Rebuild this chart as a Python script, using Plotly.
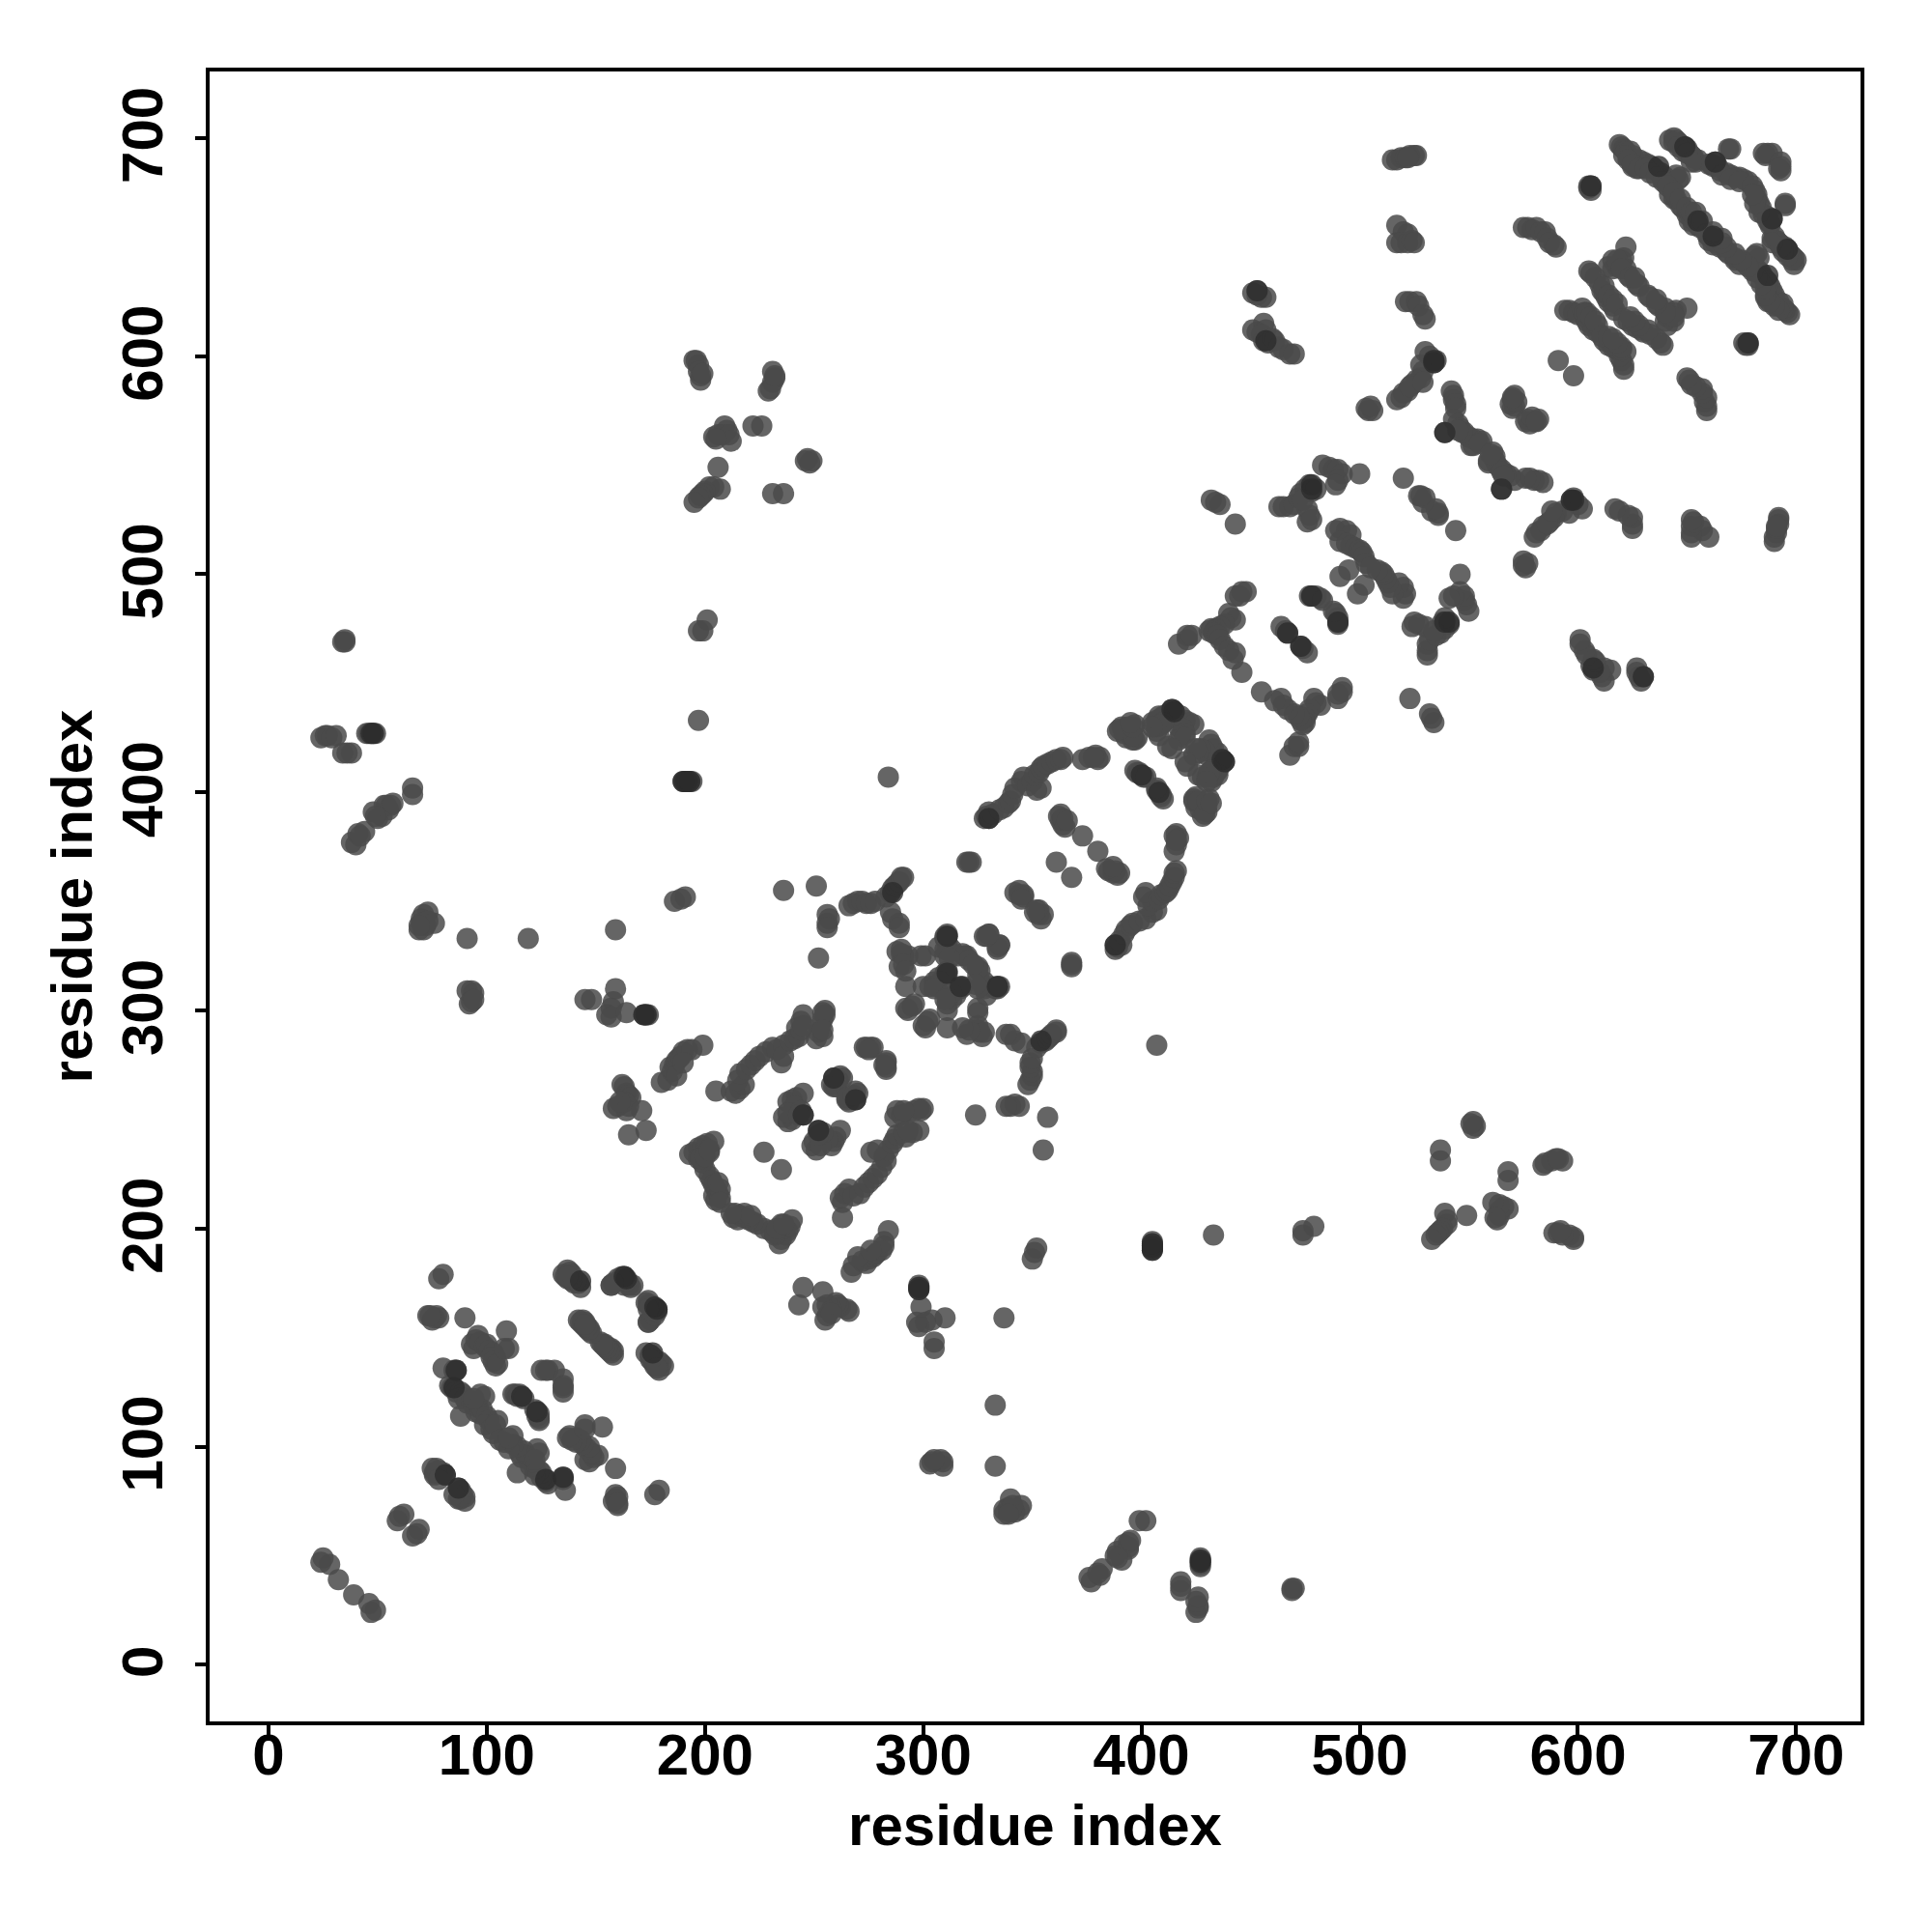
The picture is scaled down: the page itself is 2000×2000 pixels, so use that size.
import plotly.graph_objects as go

# Contacts, stored once as (lower residue, higher residue).
# The map is symmetric, so each contact is also drawn at (higher, lower).
n_terminal = [(25,49),(24,47),(28,46),(32,39),(60,68),(62,69),(59,66),
    (75,90),(76,88),(77,88),(78,89),(80,88),(81,87),(76,87),(77,90),(78,85)]
region_100 = [(78,177),(80,179),(73,160),(76,159),(77,160),(75,158),(78,159),(74,160),(90,159),
    (96,151),(93,147),(95,149),(94,145),(97,148),(99,146),(100,147),(101,144),(103,143),(104,141),(102,141),
    (104,137),(103,139),(105,138),(109,153),(110,145),(108,145),(80,136),(86,135),(85,135),
    (83,128),(84,127),(85,127),(86,125),(88,125),(89,124),(87,122),(90,122),(91,120),(93,121),(94,119),
    (96,118),(95,116),(97,115),(98,117),(99,123),(97,124),(94,122),(100,114),(101,112),(99,110),(102,108),
    (103,106),(105,112),(104,110),(88,114),(112,124),(113,124),(114,123),(116,123),(115,124),(117,122),
    (125,135),(128,135),(131,135),(127,135),(137,181),(135,179),(137,177),(139,176),(141,176),(142,175),
    (140,175),(136,178),(157,174),(160,177),(162,178),(164,176),(165,175),(167,174),(163,174),(173,166),
    (174,165),(176,164),(178,163),(177,162),(174,157),(175,158),(142,158),(143,157),(144,156),(145,155),
    (146,154),(147,153),(152,148),(154,147),(155,146),(157,145),(158,144),(156,145),(173,143),(175,142),
    (176,141),(177,139),(179,139),(180,138),(178,137)]
region_200 = [(162,266),(163,265),(164,262),(165,261),(166,260),(163,258),(160,256),(158,255),(165,256),
    (164,254),(171,254),(165,243),(173,245),(161,258),(180,267),(183,268),(185,272),(184,274),(186,275),
    (187,277),(188,278),(189,279),(190,281),(192,282),(194,282),(199,284),(187,270),(190,276),(205,263),
    (212,263),(214,262),(216,264),(218,266),(215,268),(216,271),(219,273),(221,275),(223,277),(225,279),
    (228,281),(231,283),(233,282),(236,284),(235,276),(236,279),(239,286),(241,287),(243,288),(242,292),
    (244,295),(245,298),(251,287),(252,290),(253,293),(254,296),(255,298),(255,300),(254,299),(244,291),
    (245,293),(254,288),(254,291),(227,235),(193,234),(195,235),(197,237),(199,238),(200,236),(201,239),
    (204,240),(202,235),(197,232),(199,230),(200,227),(202,224),(203,222),(204,220),(205,218),(206,216),
    (204,215),(205,213),(207,214),(207,218),(206,221),(207,212),(198,232),(200,233),(202,236),
    (238,258),(240,259),(242,260),(245,262),(241,256),(243,253),(245,252),(240,250),(238,249),(236,251),
    (238,253),(244,254),(243,252),(259,269),(262,270),(259,265),(258,266),(263,269),(260,265),(261,268),
    (274,283),(276,283),(277,283),(273,283),(275,282)]
region_300 = [(266,348),(268,349),(270,350),(272,350),(274,349),(276,349),(278,350),(283,352),(285,354),
    (286,356),(287,357),(288,358),(289,359),(290,361),(291,361),(256,344),(257,342),(256,340),(256,338),
    (252,324),(285,345),(286,342),(289,340),(289,338),(236,355),(251,357),(186,350),(189,351),(191,352),
    (288,327),(290,326),(291,325),(293,325),(290,328),(289,320),(291,321),(292,318),(292,311),(301,325),
    (299,325),(311,334),(310,333),(311,331),(307,329),(310,328),(312,327),(316,325),(318,326),(320,325),
    (328,334),(330,335),(334,329),(335,330),(311,318),(310,317),(307,315),(305,313),(303,311),(300,311),
    (306,311),(296,303),(293,300),(292,301),(295,302),(308,313),(305,310),(313,328),(319,325),(321,323),
    (310,325),(312,324),(310,334),(311,335),(321,368),(320,368),(322,368),(342,354),(344,355),(346,353),
    (344,353),(346,352),(345,351),(361,368),(362,389),(363,387),(364,385),(363,390),(364,388),(365,384),
    (373,380),(366,387),(284,407),(190,405),(191,405),(192,405),(193,405),(194,405),(197,433),(201,479),
    (197,474),(199,474),(159,337),(119,333),(91,333)]
region_400 = [(328,388),(329,389),(330,388),(330,391),(332,390),(335,392),(337,393),(339,395),(340,396),
    (341,399),(342,402),(345,405),(346,407),(348,403),(350,405),(352,401),(354,402),(351,408),(353,409),
    (354,411),(355,412),(357,413),(359,414),(361,415),(363,415),(373,415),(376,416),(379,417),(381,416),
    (380,415),(389,428),(392,429),(394,430),(397,431),(395,426),(393,425),(398,425),(396,424),(392,427),
    (405,432),(407,433),(409,434),(410,435),(412,436),(414,438),(408,431),(411,433),(413,435),(416,434),
    (418,435),(420,433),(422,432),(424,431),(417,430),(419,429),(420,427),(418,426),(417,424),(420,425),
    (412,421),(414,420),(414,437),(415,437),(408,435),(410,432),(407,430),(407,428),(408,426),(409,431),
    (405,430),(397,410),(399,409),(400,408),(401,407),(398,409),(402,407),(397,424),(396,426),(391,430),
    (390,429),(396,430),(395,432),(378,416),(364,416)]
region_500 = [(417,468),(421,470),(421,472),(423,472),(440,482),(441,480),(443,479),(438,477),(436,476),
    (434,475),(432,475),(431,474),(433,473),(435,472),(436,470),(438,467),(440,465),(443,464),(442,461),
    (446,455),(443,490),(446,492),(448,492),(445,490),(464,476),(466,474),(467,473),(477,490),(478,490),
    (482,489),(480,490),(483,488),(432,534),(434,533),(436,532),(443,523),(463,531),(465,531),(468,531),
    (470,532),(472,535),(473,537),(475,539),(477,541),(478,538),(480,539),(476,530),(477,527),(476,524),
    (478,525),(474,534),(483,550),(486,549),(488,548),(490,548),(492,546),(490,543),(500,546),(489,541),
    (520,544),(527,536),(530,535),(533,529),(536,528),(489,520),(491,521),(494,520),(496,518),(491,515),
    (494,514),(496,513),(498,512),(500,511),(501,510),(502,508),(503,505),(491,499),(495,502)]
region_600 = [(515,690),(517,690),(519,691),(521,691),(523,692),(525,692),(526,692),(522,691),(517,660),
    (520,657),(522,656),(517,652),(519,652),(522,652),(524,653),(525,652),(521,625),(523,625),(526,625),
    (527,623),(529,619),(530,617),(530,602),(532,600),(534,598),(535,598),(528,596),(529,593),(528,590),
    (526,589),(524,587),(522,584),(520,583),(517,580),(519,581),(523,586),(529,588),(503,576),(504,575),
    (506,575),(505,577),(542,584),(543,582),(543,580),(544,578),(544,576),(543,571),(539,565),(545,569),
    (546,567),(548,565),(550,563),(552,562),(554,562),(556,561),(551,559),(552,559),(547,565),(545,566),
    (555,560),(570,580),(571,582),(569,578),(570,576),(571,577),(572,579),(570,581),(591,598),(534,597),
    (451,629),(453,628),(455,627),(457,627),(453,630),(451,612),(453,611),(456,615),(457,612),(455,610),
    (456,607),(458,606),(460,608),(461,607),(463,604),(465,603),(468,601),(470,601),
    (231,593),(232,590),(231,588),(230,585),(229,584),(232,591),(195,598),(196,598),(197,596),(197,593),
    (198,591),(198,589),(199,592),(209,568),(204,563),(206,564),(208,564),(210,566),(211,564),(212,561),
    (205,562),(222,568),(226,568),(206,549),(246,552),(247,553),(249,552),(248,551),(231,537),(236,537),
    (207,539),(204,540),(202,540),(200,538),(199,537),(198,536),(197,535),(195,533)]
region_c_terminal = [(594,621),(596,621),(598,620),(600,619),(602,622),(603,618),(604,616),(606,615),(605,639),
    (606,638),(603,620),(605,614),(610,633),(611,630),(612,629),(613,627),(614,625),(616,623),(617,621),
    (614,641),(616,640),(618,641),(620,644),(622,650),(621,645),(622,640),(623,637),(627,633),(628,632),
    (607,612),(609,611),(609,614),(608,636),(605,677),(605,678),(606,676),(606,678),(575,659),(577,659),
    (579,658),(581,659),(583,657),(585,657),(586,654),(589,651),(587,652),(590,650),(619,697),(620,696),
    (621,695),(622,694),(623,692),(624,690),(625,692),(626,690),(627,688),(628,690),(630,689),(632,688),
    (634,687),(635,686),(636,685),(638,684),(640,682),(642,680),(645,683),(647,682),(643,676),(642,674),
    (644,672),(645,672),(647,669),(648,668),(650,665),(652,663),(654,662),(651,662),(653,660),(655,660),
    (656,659),(625,687),(627,686),(642,699),(644,700),(645,699),(646,698),(647,697),(648,696),(650,695),
    (651,693),(652,692),(653,691),(654,689),(655,690),(662,687),(664,687),(665,685),(668,684),(670,683),
    (672,682),(674,682),(676,681),(678,680),(669,695),(685,693),(687,693),(689,693),(686,692),(660,688),
    (661,688),(663,689),(639,681),(633,687),(624,694),(670,695),(649,696),(646,681),
    (604,620),(606,618),(608,616),(612,632),(614,628),(616,626),(618,624),(616,644),(618,644),(620,640),
    (624,636),(626,636),(621,692),(623,690),(625,688),(628,686),(631,686),(633,684),(636,682),(639,680),
    (641,678),(644,675),(647,672),(650,668),(652,666),(654,666),(657,662),(644,698),(646,696),(648,694),
    (650,693),(652,689),(666,683),(670,681),(674,680)]
far_contacts = [(34,469),(35,470),(35,469),(24,425),(26,426),(27,426),(29,425),(31,426),(45,427),(46,427),
    (47,427),(49,427),(48,427),(34,418),(38,418),(36,418),(66,402),(66,399),(38,377),(40,376),(41,381),
    (44,382),(42,380),(48,391),(50,388),(52,389),(54,394),(56,394),(55,392),(53,394),(49,389),(57,395),
    (70,342),(71,344),(73,345),(76,340),(69,337),(71,337),(72,339),(70,340),(73,341),(69,339),(91,309),
    (93,309),(94,308),(93,304),(92,303),(94,305),(145,305),(148,305),(159,310),(158,304),(157,301),(155,298),
    (157,297),(164,299),(172,298),(174,298),(173,298)]
dark_contacts = [(81,87),(116,123),(85,127),(86,135),(143,176),(164,177),(163,178),(245,252),(259,269),
    (311,317),(311,334),(286,354),(330,388),(414,438),(415,437),(400,408),(467,473),(478,490),
    (478,541),(478,539),(190,405),(191,405),(192,405),(193,405),(47,427),(48,427),(534,598),(534,597),
    (539,565),(453,630),(457,607),(606,678),(655,662),(637,687),(663,689),(649,696),(172,298),(173,298)]

axis_ticks = [0, 100, 200, 300, 400, 500, 600, 700]
axis_title = "residue index"

contacts = (n_terminal + region_100 + region_200 + region_300 + region_400 + region_500
            + region_600 + region_c_terminal + far_contacts)
x = [a for a, b in contacts] + [b for a, b in contacts]
y = [b for a, b in contacts] + [a for a, b in contacts]
dark_x = [a for a, b in dark_contacts] + [b for a, b in dark_contacts]
dark_y = [b for a, b in dark_contacts] + [a for a, b in dark_contacts]

FONT = "Liberation Sans"
fig = go.Figure()
fig.add_trace(go.Scatter(x=x, y=y, mode="markers", showlegend=False,
                         marker=dict(size=22, color="#4a4a4a", opacity=0.85, line=dict(width=0))))
fig.add_trace(go.Scatter(x=dark_x, y=dark_y, mode="markers", showlegend=False,
                         marker=dict(size=22, color="#2c2c2c", opacity=0.8, line=dict(width=0))))

axis = dict(tickmode="array", tickvals=axis_ticks, ticks="outside", ticklen=11, tickwidth=4,
            tickcolor="black", showline=True, linecolor="black", linewidth=4, mirror=True,
            showgrid=False, zeroline=False,
            tickfont=dict(family=FONT, size=60, color="black", weight="bold"))
fig.update_layout(
    width=2000, height=2000, autosize=False, paper_bgcolor="white", plot_bgcolor="white",
    margin=dict(l=209, r=82, t=66, b=226, autoexpand=False),
    xaxis=dict(axis, range=[-27, 729.5], ticklabelstandoff=-32, title=dict(text=axis_title, standoff=20,
                                font=dict(family=FONT, size=60, color="black", weight="bold"))),
    yaxis=dict(axis, range=[-26, 730.5], tickangle=-90, ticklabelstandoff=10, ticklabelshift=6,
               title=dict(text=axis_title, standoff=0,
                          font=dict(family=FONT, size=60, color="black", weight="bold"))),
)
fig.write_html("out.html")
